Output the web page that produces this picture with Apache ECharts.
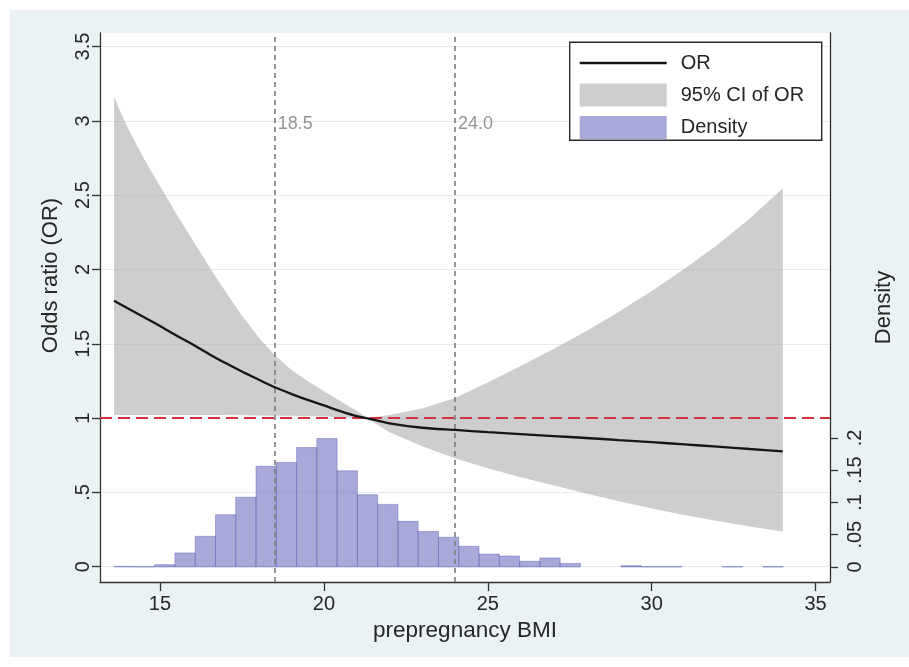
<!DOCTYPE html>
<html><head><meta charset="utf-8">
<script src="https://cdn.jsdelivr.net/npm/echarts@6/dist/echarts.min.js"></script>
<style>html,body{margin:0;padding:0;background:#fff;}#c{position:absolute;left:10px;top:10px;width:899px;height:647px;}</style>
</head><body><div id="c"></div>
<script>
// ---- data ----
const bmi      = [13.6, 14, 14.5, 15, 15.5, 16, 16.5, 17, 17.5, 18, 18.5, 19, 19.5, 20, 20.5, 21, 21.3, 22, 23, 24, 25, 26, 27, 28, 29, 30, 31, 32, 33, 34];
const orValues = [1.79, 1.74, 1.68, 1.62, 1.555, 1.495, 1.43, 1.37, 1.313, 1.26, 1.207, 1.163, 1.122, 1.085, 1.047, 1.013, 1.0, 0.965, 0.935, 0.92, 0.905, 0.892, 0.879, 0.866, 0.852, 0.838, 0.823, 0.808, 0.792, 0.776];
const ciUpper  = [3.16, 2.96, 2.75, 2.56, 2.375, 2.195, 2.02, 1.85, 1.69, 1.545, 1.425, 1.325, 1.25, 1.18, 1.115, 1.05, 1.0, 1.02, 1.065, 1.135, 1.24, 1.35, 1.465, 1.585, 1.715, 1.855, 2.005, 2.165, 2.345, 2.546];
const ciLower  = [1.02, 1.02, 1.02, 1.02, 1.02, 1.02, 1.02, 1.02, 1.019, 1.018, 1.016, 1.015, 1.012, 1.01, 1.006, 1.003, 1.0, 0.905, 0.81, 0.73, 0.662, 0.602, 0.548, 0.492, 0.44, 0.392, 0.348, 0.308, 0.27, 0.236];

const binCenters = [13.909, 14.528, 15.146, 15.765, 16.383, 17.002, 17.620, 18.239, 18.857, 19.476, 20.094, 20.713, 21.331, 21.950, 22.568, 23.187, 23.806, 24.424, 25.043, 25.661, 26.280, 26.898, 27.517, 28.135, 28.754, 29.372, 29.991, 30.609, 31.228, 31.846, 32.465, 33.083, 33.702];
const binWidth = 0.6185;
const density  = [0.001, 0.0005, 0.0036, 0.0217, 0.0475, 0.081, 0.108, 0.156, 0.162, 0.185, 0.199, 0.149, 0.112, 0.097, 0.0707, 0.055, 0.046, 0.032, 0.020, 0.017, 0.0088, 0.014, 0.0055, 0, 0, 0.002, 0.0005, 0.0005, 0, 0, 0.0005, 0, 0.0005];

const xTicks = [15, 20, 25, 30, 35];
const orTicks = [0, 0.5, 1, 1.5, 2, 2.5, 3, 3.5];
const orTickLabels = ['0', '.5', '1', '1.5', '2', '2.5', '3', '3.5'];
const densityTicks = [0, 0.05, 0.1, 0.15, 0.2];
const densityTickLabels = ['0', '.05', '.1', '.15', '.2'];
const refLines = [18.5, 24];
const refLineLabels = ['18.5', '24.0'];
const refLabelY = 2.98;
const nullOR = 1;

// ---- chart ----
const FONT = '"Liberation Sans", Arial, Helvetica, sans-serif';
const TXT = '#262626';
const chart = echarts.init(document.getElementById('c'), null, {renderer: 'canvas'});

const bandData  = bmi.map((x, i) => [x, ciLower[i], ciUpper[i]]);
const orData    = bmi.map((x, i) => [x, orValues[i]]);
const histData  = binCenters.map((c, i) => [c, density[i]]);
const refLabelData = refLines.map((x, i) => ({value: [x, refLabelY], name: refLineLabels[i]}));

const legendText = (t, y) => ({type: 'text', x: 111, y: y, z: 101,
  style: {text: t, fontSize: 20, fontFamily: FONT, fill: TXT, verticalAlign: 'middle'}});

const option = {
  animation: false,
  backgroundColor: '#eaf2f3',
  textStyle: {fontFamily: FONT},
  grid: {left: 90, right: 79, top: 23, bottom: 75, show: true, backgroundColor: '#ffffff', borderWidth: 0},
  xAxis: {
    type: 'value', min: 13.17, max: 35.44,
    name: 'prepregnancy BMI', nameLocation: 'middle', nameGap: 36,
    nameTextStyle: {fontSize: 22.5, color: TXT, fontFamily: FONT},
    axisLine: {show: true, onZero: false, lineStyle: {color: '#333', width: 1.3}},
    axisTick: {show: true, customValues: xTicks, length: 9, lineStyle: {color: '#333', width: 1.3}},
    axisLabel: {customValues: xTicks, margin: 12, fontSize: 20, color: TXT, fontFamily: FONT},
    splitLine: {show: false}
  },
  yAxis: [{
    type: 'value', min: -0.103, max: 3.591, position: 'left',
    name: 'Odds ratio (OR)', nameLocation: 'middle', nameGap: 38, nameRotate: 90,
    nameTextStyle: {fontSize: 22, color: TXT, fontFamily: FONT, padding: [0, 0, 0, 64]},
    axisLine: {show: true, onZero: false, lineStyle: {color: '#333', width: 1.3}},
    axisTick: {show: true, customValues: orTicks, length: 8, lineStyle: {color: '#333', width: 1.3}},
    axisLabel: {customValues: orTicks, rotate: 90, margin: 7, fontSize: 20, color: TXT, fontFamily: FONT,
      formatter: v => orTickLabels[orTicks.indexOf(v)] ?? ''},
    splitLine: {show: true, lineStyle: {color: '#e2ebf0', width: 1}}
  }, {
    type: 'value', min: -0.02326, max: 0.8274, position: 'right',
    name: 'Density', nameLocation: 'middle', nameGap: 32, nameRotate: 90,
    nameTextStyle: {fontSize: 22, color: TXT, fontFamily: FONT},
    axisLine: {show: true, onZero: false, lineStyle: {color: '#333', width: 1.3}},
    axisTick: {show: true, customValues: densityTicks, length: 8, lineStyle: {color: '#333', width: 1.3}},
    axisLabel: {customValues: densityTicks, rotate: 90, margin: 15, fontSize: 20, color: TXT, fontFamily: FONT,
      formatter: v => densityTickLabels[densityTicks.indexOf(v)] ?? ''},
    splitLine: {show: false}
  }],
  series: [
    {
      name: 'null line', type: 'line', data: [], z: 1, silent: true,
      markLine: {silent: true, symbol: ['none', 'none'], label: {show: false},
        lineStyle: {color: '#d3313f', type: [12, 6], width: 2.2},
        data: [{yAxis: nullOR}]}
    },
    {
      name: '95% CI of OR', type: 'custom', data: bandData, z: 2, silent: true,
      encode: {x: 0, y: [1, 2]},
      renderItem: function (params, api) {
        if (params.dataIndex !== 0) return;
        const pts = [];
        for (let i = 0; i < bmi.length; i++) pts.push(api.coord([bmi[i], ciUpper[i]]));
        for (let i = bmi.length - 1; i >= 0; i--) pts.push(api.coord([bmi[i], ciLower[i]]));
        return {type: 'polygon', shape: {points: pts}, style: {fill: 'rgba(175,174,175,0.6)'}};
      }
    },
    {
      name: 'Density', type: 'custom', yAxisIndex: 1, data: histData, z: 3, silent: true,
      encode: {x: 0, y: 1},
      renderItem: function (params, api) {
        const c = api.value(0), d = api.value(1);
        if (!d) return {type: 'group', children: []};
        const p0 = api.coord([c - binWidth / 2, d]);
        const p1 = api.coord([c + binWidth / 2, 0]);
        return {type: 'rect', shape: {x: p0[0], y: p0[1], width: p1[0] - p0[0], height: p1[1] - p0[1]},
          style: {fill: 'rgba(110,112,190,0.6)', stroke: 'rgba(95,97,180,0.45)', lineWidth: 1}};
      }
    },
    {
      name: 'ref labels', type: 'scatter', data: refLabelData, symbolSize: 0, z: 4, silent: true,
      label: {show: true, position: 'right', distance: 3, formatter: '{b}', fontSize: 18, color: '#7a7a7a', fontFamily: FONT},
      markLine: {silent: true, symbol: ['none', 'none'], label: {show: false},
        lineStyle: {color: '#7c7c7c', type: [5, 4], width: 1.6},
        data: refLines.map(x => ({xAxis: x}))}
    },
    {
      name: 'OR', type: 'line', data: orData, smooth: 0.25, symbol: 'none', z: 5, silent: true,
      lineStyle: {color: '#161616', width: 2.3}
    }
  ],
  graphic: [{
    type: 'group', left: 559, top: 31.5, z: 100,
    children: [
      {type: 'rect', z: 100, shape: {x: 0, y: 0, width: 252, height: 98}, style: {fill: '#ffffff', stroke: '#2a2a2a', lineWidth: 1.4}},
      {type: 'line', z: 101, shape: {x1: 10, y1: 20.8, x2: 97, y2: 20.8}, style: {stroke: '#161616', lineWidth: 2.3}},
      {type: 'rect', z: 101, shape: {x: 10, y: 41.2, width: 87, height: 23.2}, style: {fill: '#cfcecf'}},
      {type: 'rect', z: 101, shape: {x: 10, y: 73.8, width: 87, height: 23.2}, style: {fill: '#a8a9d8'}},
      legendText('OR', 20.8),
      legendText('95% CI of OR', 52.8),
      legendText('Density', 85.4)
    ]
  }]
};
chart.setOption(option);
</script></body></html>
